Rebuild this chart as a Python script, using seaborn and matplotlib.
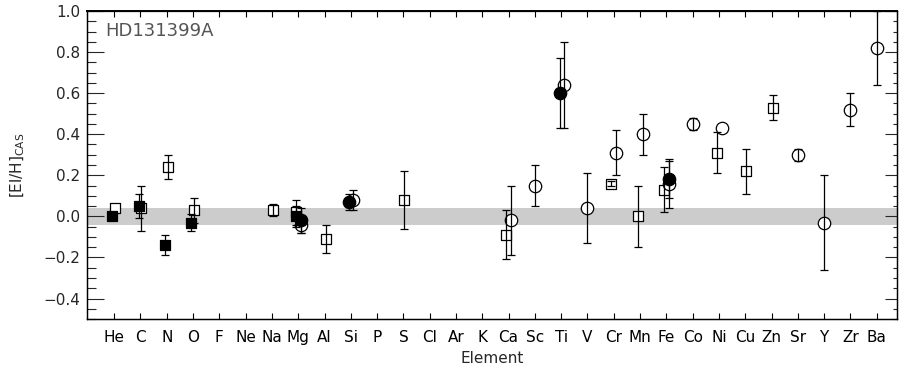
import numpy as np
import matplotlib
matplotlib.use('Agg')
import matplotlib.pyplot as plt
from matplotlib.ticker import MultipleLocator
import seaborn as sns

# element axis
elements = ['He', 'C', 'N', 'O', 'F', 'Ne', 'Na', 'Mg', 'Al', 'Si', 'P', 'S', 'Cl', 'Ar', 'K',
            'Ca', 'Sc', 'Ti', 'V', 'Cr', 'Mn', 'Fe', 'Co', 'Ni', 'Cu', 'Zn', 'Sr', 'Y', 'Zr', 'Ba']

# filled squares
fsq_el = ['He', 'C', 'N', 'O', 'Mg']
fsq_val = [0.00, 0.05, -0.14, -0.03, 0.00]
fsq_err = [0.00, 0.06, 0.05, 0.04, 0.05]

# open squares
osq_el = ['He', 'C', 'N', 'O', 'Na', 'Mg', 'Al', 'S', 'Ca', 'Cr', 'Mn', 'Fe', 'Ni', 'Cu', 'Zn']
osq_val = [0.04, 0.04, 0.24, 0.03, 0.03, 0.02, -0.11, 0.08, -0.09, 0.16, 0.00, 0.13, 0.31, 0.22, 0.53]
osq_err = [0.00, 0.11, 0.06, 0.06, 0.03, 0.06, 0.07, 0.14, 0.12, 0.01, 0.15, 0.11, 0.10, 0.11, 0.06]

# filled circles
fci_el = ['Mg', 'Si', 'Ti', 'Fe']
fci_val = [-0.02, 0.07, 0.60, 0.18]
fci_err = [0.06, 0.04, 0.17, 0.09]

# open circles
oci_el = ['Mg', 'Si', 'Ca', 'Sc', 'Ti', 'V', 'Cr', 'Mn', 'Fe', 'Co', 'Ni', 'Sr', 'Y', 'Zr', 'Ba']
oci_val = [-0.04, 0.08, -0.02, 0.15, 0.64, 0.04, 0.31, 0.40, 0.16, 0.45, 0.43, 0.30, -0.03, 0.52, 0.82]
oci_err = [0.04, 0.05, 0.17, 0.10, 0.21, 0.17, 0.11, 0.10, 0.12, 0.03, 0.00, 0.03, 0.23, 0.08, 0.18]

band = 0.04

sns.set_theme(style='ticks')
plt.rcParams['font.family'] = ['DejaVu Sans']
plt.rcParams['axes.unicode_minus'] = True

pos = {el: i for i, el in enumerate(elements)}


def xs(els, shift):
    return np.array([pos[e] for e in els], dtype=float) + np.asarray(shift)


# small horizontal nudges where markers share an element
crowd = set(fsq_el) | set(fci_el) | set(osq_el)
sh_fsq = [-0.07] * len(fsq_el)
sh_osq = [-0.09 if e in oci_el else 0.04 for e in osq_el]
sh_fci = [0.1 if e in osq_el else -0.06 for e in fci_el]
sh_oci = [0.1 if e in crowd else 0.0 for e in oci_el]

fig = plt.figure(figsize=(8.99, 3.71), dpi=100)
ax = fig.add_axes([0.0968, 0.140, 0.9010, 0.8304])

ax.axhspan(-band, band, color='#cccccc', lw=0, zorder=0)


def draw(els, vals, errs, shift, marker, filled, size):
    x = xs(els, shift)
    v = np.array(vals)
    e = np.array(errs)
    fc = 'black' if filled else 'white'
    sns.scatterplot(x=x, y=v, ax=ax, marker=marker, s=size, color=fc,
                    edgecolor='black', linewidth=0.9, zorder=4 if filled else 2,
                    legend=False)
    m = e > 0
    ax.errorbar(x[m], v[m], yerr=e[m], fmt='none', ecolor='black',
                elinewidth=0.9, capsize=3, capthick=0.9, zorder=3)


draw(osq_el, osq_val, osq_err, sh_osq, 's', False, 50)
draw(oci_el, oci_val, oci_err, sh_oci, 'o', False, 80)
draw(fsq_el, fsq_val, fsq_err, sh_fsq, 's', True, 50)
draw(fci_el, fci_val, fci_err, sh_fci, 'o', True, 80)

ax.set_xlim(-1.03, 29.77)
ax.set_ylim(-0.5, 1.0)
ax.set_xticks(range(len(elements)))
ax.set_xticklabels(elements, fontsize=11)
ax.yaxis.set_major_locator(MultipleLocator(0.2))
ax.yaxis.set_minor_locator(MultipleLocator(0.05))
ax.set_yticks(np.arange(-0.4, 1.01, 0.2))
ax.set_yticklabels([f'{t:.1f}'.replace('-', '\u2212') for t in np.arange(-0.4, 1.01, 0.2)],
                   fontsize=11)

ax.tick_params(axis='x', which='major', direction='in', length=4.5, width=0.8,
               top=True, pad=8, colors='black')
ax.tick_params(axis='y', which='major', direction='in', length=12, width=0.8,
               right=False, pad=5)
ax.tick_params(axis='y', which='minor', direction='in', length=6.5, width=0.8,
               right=False)

# right-hand ticks are shorter
ax2 = ax.twinx()
ax2.set_ylim(ax.get_ylim())
ax2.yaxis.set_major_locator(MultipleLocator(0.2))
ax2.yaxis.set_minor_locator(MultipleLocator(0.05))
ax2.tick_params(axis='y', which='major', direction='in', length=8.5, width=0.8, labelright=False)
ax2.tick_params(axis='y', which='minor', direction='in', length=3, width=0.8, labelright=False)

for a in (ax, ax2):
    for s in a.spines.values():
        s.set_linewidth(0.9)
        s.set_color('black')
ax.spines['top'].set_linewidth(1.4)

ax.set_xlabel('Element', fontsize=11, labelpad=4)
ax.set_ylabel(r'[El/H]$_{\rm CAS}$', fontsize=11, labelpad=12)
ax.text(0.022, 0.935, 'HD131399A', transform=ax.transAxes, fontsize=13,
        color='#555555', ha='left', va='center')

fig.savefig('out.png', dpi=100)
